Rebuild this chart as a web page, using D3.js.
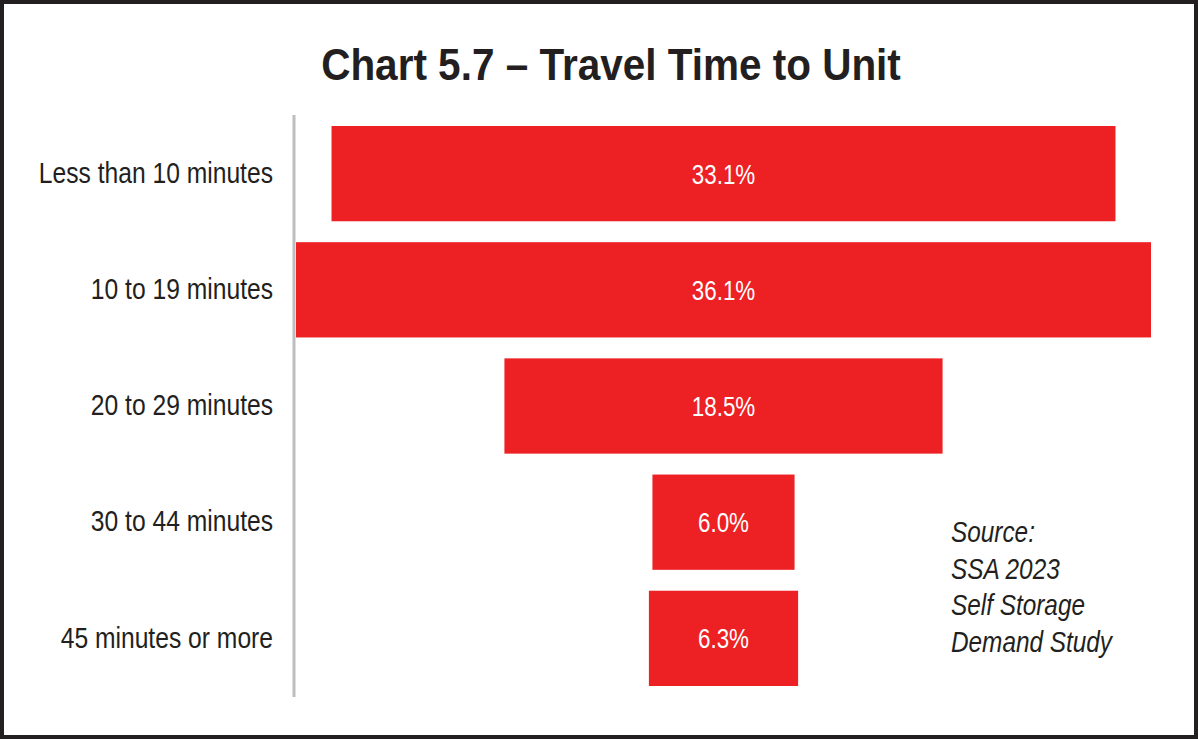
<!DOCTYPE html>
<html>
<head>
<meta charset="utf-8">
<script src="https://cdnjs.cloudflare.com/ajax/libs/d3/7.8.5/d3.min.js"></script>
<style>
  html, body { margin: 0; padding: 0; background: #fff; }
  svg { display: block; }
  text { font-family: "Liberation Sans", Arial, sans-serif; }
</style>
</head>
<body>
<div id="chart"></div>
<script>
/* data */
const categories = ["Less than 10 minutes", "10 to 19 minutes", "20 to 29 minutes", "30 to 44 minutes", "45 minutes or more"];
const values = [33.1, 36.1, 18.5, 6.0, 6.3];
const valueLabels = ["33.1%", "36.1%", "18.5%", "6.0%", "6.3%"];
const sourceLines = ["Source:", "SSA 2023", "Self Storage", "Demand Study"];
const title = "Chart 5.7 \u2013 Travel Time to Unit";

const W = 1198, H = 740;
const red = "#ed2024", ink = "#231f20";

// no narrow font installed, so squeeze text horizontally around its anchor
function squeeze(sel, s, xf, yf) {
  sel.attr("transform", (d, i) => "translate(" + xf(d, i) + "," + yf(d, i) + ") scale(" + s + ",1)")
     .attr("x", 0)
     .attr("y", 0);
}

function funnelChart() {
  const svg = d3.select("#chart").append("svg")
      .attr("width", W)
      .attr("height", H);

  // frame
  svg.append("rect")
     .attr("x", 2).attr("y", 2)
     .attr("width", W - 4).attr("height", H - 5)
     .attr("fill", "#fff")
     .attr("stroke", ink)
     .attr("stroke-width", 4);

  svg.append("text")
     .attr("text-anchor", "middle")
     .attr("font-size", "44.5px")
     .attr("font-weight", "bold")
     .attr("fill", ink)
     .text(title)
     .call(squeeze, 0.91, () => 611, () => 80);

  const left = 296, full = 855;
  const cx = left + full / 2;

  const y = d3.scaleBand()
      .domain(categories)
      .range([126, 686])
      .paddingInner(0.18)
      .paddingOuter(0);

  const x = d3.scaleLinear()
      .domain([0, d3.max(values)])
      .range([0, full]);

  const rows = categories.map((c, i) => ({ cat: c, v: values[i], lab: valueLabels[i] }));

  // bars, centred to form the funnel
  svg.append("g").selectAll("rect")
     .data(rows)
     .enter().append("rect")
     .attr("x", d => cx - x(d.v) / 2)
     .attr("y", d => y(d.cat))
     .attr("width", d => x(d.v))
     .attr("height", y.bandwidth())
     .attr("fill", red);

  svg.append("g").selectAll("text")
     .data(rows)
     .enter().append("text")
     .attr("dy", "0.36em")
     .attr("text-anchor", "middle")
     .attr("font-size", "28px")
     .attr("fill", "#fff")
     .text(d => d.lab)
     .call(squeeze, 0.8, () => cx, d => y(d.cat) + y.bandwidth() / 2);

  // category axis
  const s = 0.85;
  const axis = svg.append("g")
      .attr("transform", "translate(" + 294 + ",0)")
      .call(d3.axisLeft(y).tickSize(0).tickPadding(21));
  axis.select(".domain").remove();
  axis.selectAll(".tick text")
      .attr("font-size", "29px")
      .attr("fill", ink)
      .attr("font-family", null)
      .attr("x", -21 / s)
      .attr("transform", "scale(" + s + ",1)");
  axis.append("line")
      .attr("x1", 0).attr("x2", 0)
      .attr("y1", 115).attr("y2", 697)
      .attr("stroke", "#bcbec0")
      .attr("stroke-width", 3);

  // source note
  svg.append("g").selectAll("text")
     .data(sourceLines)
     .enter().append("text")
     .attr("font-size", "29px")
     .attr("font-style", "italic")
     .attr("fill", ink)
     .text(d => d)
     .call(squeeze, 0.84, () => 951, (d, i) => 542 + i * 36.5);
}

funnelChart();
</script>
</body>
</html>
